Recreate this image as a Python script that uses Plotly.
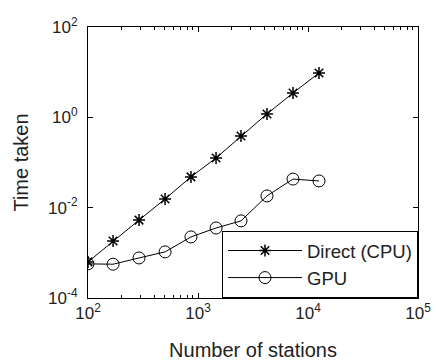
import plotly.graph_objects as go

stations = [100, 169, 291, 502, 863, 1459, 2460, 4237, 7305, 12590]
direct_cpu = [6.3e-4, 1.83e-3, 5.3e-3, 1.56e-2, 4.8e-2, 0.126, 0.386, 1.19, 3.46, 9.6]
gpu = [5.7e-4, 5.6e-4, 7.7e-4, 1.05e-3, 2.25e-3, 3.55e-3, 5.1e-3, 1.82e-2, 4.3e-2, 3.9e-2]

x_tickvals = [1e2, 1e3, 1e4, 1e5]
x_ticktext = ["10<sup>2</sup>", "10<sup>3</sup>", "10<sup>4</sup>", "10<sup>5</sup>"]
y_tickvals = [1e-4, 1e-2, 1e0, 1e2]
y_ticktext = ["10<sup>-4</sup>", "10<sup>-2</sup>", "10<sup>0</sup>", "10<sup>2</sup>"]

fam = "Liberation Sans, Arial, sans-serif"
font = dict(family=fam, size=16.5, color="#222")

fig = go.Figure()
fig.add_trace(go.Scatter(
    x=stations, y=direct_cpu, name="Direct (CPU)", mode="lines+markers",
    line=dict(color="black", width=1),
    marker=dict(symbol="asterisk-open", size=10, color="black", line=dict(width=1.5, color="black")),
))
fig.add_trace(go.Scatter(
    x=stations, y=gpu, name="GPU", mode="lines+markers",
    line=dict(color="black", width=1),
    marker=dict(symbol="circle-open", size=12, color="black", line=dict(width=1, color="black")),
))

fig.update_layout(
    width=436, height=361,
    margin=dict(l=88, r=18, t=27, b=63),
    paper_bgcolor="white", plot_bgcolor="white",
    font=font,
    showlegend=True,
    legend=dict(x=1, y=0, xanchor="right", yanchor="bottom",
                bordercolor="black", borderwidth=1, bgcolor="white",
                itemwidth=74, font=dict(size=18.5, family=fam, color="#222"),
                tracegroupgap=0),
)
fig.update_xaxes(
    type="log", range=[2, 5], automargin=False,
    tickvals=x_tickvals, ticktext=x_ticktext,
    ticks="inside", ticklen=5, tickcolor="black",
    showline=True, linecolor="black", linewidth=1, mirror="ticks",
    showgrid=False, zeroline=False,
    minor=dict(ticks="inside", ticklen=3, tickcolor="black", showgrid=False,
               tickvals=[a * 10 ** e for e in (2, 3, 4) for a in range(2, 10)]),
    title=dict(text="Number of stations", standoff=22),
    tickfont=dict(size=17),
)
fig.update_yaxes(
    type="log", range=[-4, 2], automargin=False,
    tickvals=y_tickvals, ticktext=y_ticktext,
    ticks="inside", ticklen=5, tickcolor="black",
    showline=True, linecolor="black", linewidth=1, mirror="ticks",
    showgrid=False, zeroline=False,
    ticklabelstandoff=6,
    title=dict(text="Time taken", standoff=14),
    tickfont=dict(size=17),
)

fig.write_html("out.html")
